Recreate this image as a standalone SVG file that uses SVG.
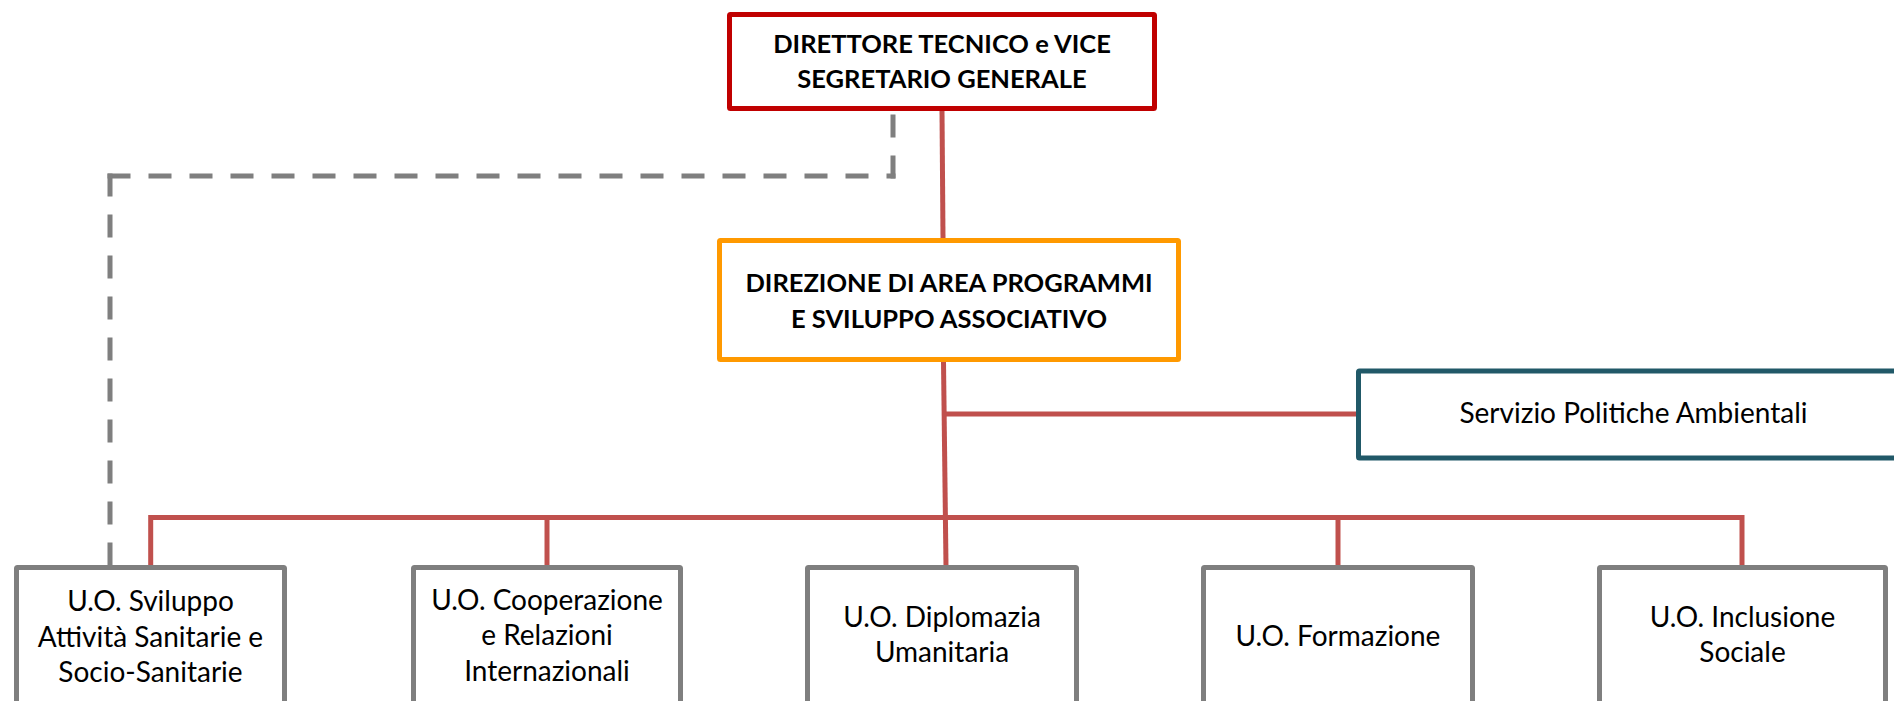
<svg xmlns="http://www.w3.org/2000/svg" width="1894" height="701" viewBox="0 0 1894 701">
  <style>
    .box { fill: #FFFFFF; stroke-width: 5; }
    .red { stroke: #C00000; }
    .orange { stroke: #FF9900; }
    .teal { stroke: #215968; }
    .gray { stroke: #7F7F7F; }
    .link { fill: none; stroke: #C0504D; stroke-width: 5; }
    .dash { fill: none; stroke: #7F7F7F; stroke-width: 5; stroke-dasharray: 18 23; stroke-linecap: square; }
    text { font-family: Lato, "Liberation Sans", sans-serif; font-size: 28px; fill: #000000; text-anchor: middle; }
    .b { font-weight: bold; font-size: 25.5px; }
  </style>
  <rect width="1894" height="701" fill="#FFFFFF"/>
  <g id="connectors">
    <path class="dash" d="M893,176 L893,113"/>
    <path class="dash" d="M110,176 L893,176"/>
    <path class="dash" d="M110,176 L110,563"/>
    <path class="link" d="M942,111 L943,238"/>
    <path class="link" d="M943.5,362 L946,566"/>
    <path class="link" d="M945,414 L1357,414"/>
    <path class="link" d="M150.7,566 L150.7,517.5 L1742,517.5 L1742,566"/>
    <path class="link" d="M547,517.5 L547,566"/>
    <path class="link" d="M1338,517.5 L1338,566"/>
  </g>
  <g id="direttore">
    <rect class="box red" x="729.5" y="14.5" width="425" height="94" rx="1"/>
    <text class="b" x="942" y="53">DIRETTORE TECNICO e VICE</text>
    <text class="b" x="942" y="88">SEGRETARIO GENERALE</text>
  </g>
  <g id="direzione">
    <rect class="box orange" x="719.5" y="240.5" width="459" height="119" rx="1"/>
    <text class="b" x="949" y="292">DIREZIONE DI AREA PROGRAMMI</text>
    <text class="b" x="949" y="328">E SVILUPPO ASSOCIATIVO</text>
  </g>
  <g id="servizio">
    <rect class="box teal" x="1358.5" y="371" width="560" height="87" rx="1"/>
    <text x="1633.5" y="423">Servizio Politiche Ambientali</text>
  </g>
  <g id="uo-sviluppo">
    <rect class="box gray" x="16.5" y="567.5" width="268" height="200" rx="1"/>
    <text x="150.5" y="611">U.O. Sviluppo</text>
    <text x="150.5" y="647">Attività Sanitarie e</text>
    <text x="150.5" y="682">Socio-Sanitarie</text>
  </g>
  <g id="uo-cooperazione">
    <rect class="box gray" x="413.5" y="567.5" width="267" height="200" rx="1"/>
    <text x="547" y="609.5">U.O. Cooperazione</text>
    <text x="547" y="645">e Relazioni</text>
    <text x="547" y="680.5">Internazionali</text>
  </g>
  <g id="uo-diplomazia">
    <rect class="box gray" x="807.5" y="567.5" width="269" height="200" rx="1"/>
    <text x="942" y="627">U.O. Diplomazia</text>
    <text x="942" y="662">Umanitaria</text>
  </g>
  <g id="uo-formazione">
    <rect class="box gray" x="1203.5" y="567.5" width="269" height="200" rx="1"/>
    <text x="1338" y="646">U.O. Formazione</text>
  </g>
  <g id="uo-inclusione">
    <rect class="box gray" x="1599.5" y="567.5" width="286" height="200" rx="1"/>
    <text x="1742.5" y="627">U.O. Inclusione</text>
    <text x="1742.5" y="662">Sociale</text>
  </g>
</svg>
